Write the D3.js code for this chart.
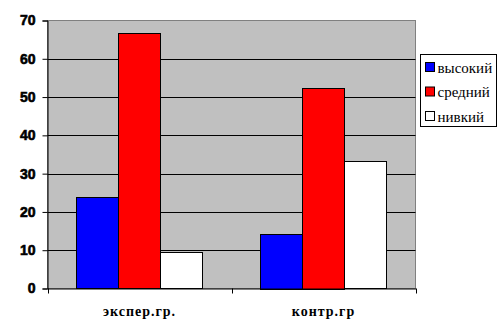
<!DOCTYPE html>
<meta charset="utf-8">
<style>
  body { margin: 0; background: #fff; }
</style>
<svg width="504" height="330"></svg>
<script src="https://d3js.org/d3.v7.min.js"></script>
<script>

var groups = ["экспер.гр.", "контр.гр"],
    levels = ["высокий", "средний", "нивкий"],
    colors = ["#0000ff", "#ff0000", "#ffffff"];

// values per group, in level order
var high = [23.8, 14.3],
    mid = [66.7, 52.4],
    low = [9.5, 33.3];

var yTicks = [0, 10, 20, 30, 40, 50, 60, 70];

var series = [high, mid, low];

var svg = d3.select("svg"),
    pLeft = 47.5, pRight = 415.5, pTop = 20.5, pBottom = 288.5;

var x = d3.scaleBand().domain(groups).range([pLeft, pRight]),
    xi = d3.scaleBand().domain(d3.range(levels.length)).range([0, x.bandwidth()]).paddingOuter(0.7).paddingInner(0),
    y = d3.scaleLinear().domain([0, 70]).range([pBottom, pTop]);

// plot area
svg.append("rect")
    .attr("x", pLeft).attr("y", pTop)
    .attr("width", pRight - pLeft).attr("height", pBottom - pTop)
    .attr("fill", "#c0c0c0")
    .attr("stroke", "#808080");

// gridlines
svg.append("g")
  .selectAll("line")
  .data(yTicks.slice(1, -1))
  .enter().append("line")
    .attr("x1", pLeft).attr("x2", pRight)
    .attr("y1", function(d) { return Math.round(y(d)) + 0.5; })
    .attr("y2", function(d) { return Math.round(y(d)) + 0.5; })
    .attr("stroke", "#000");

// bars
svg.append("g")
  .selectAll("g")
  .data(groups)
  .enter().append("g")
    .attr("transform", function(d) { return "translate(" + x(d) + ",0)"; })
  .selectAll("rect")
  .data(function(d, gi) { return series.map(function(s, li) { return {li: li, v: s[gi]}; }); })
  .enter().append("rect")
    .attr("x", function(d) { return Math.round(xi(d.li)); })
    .attr("width", Math.round(xi.bandwidth()))
    .attr("y", function(d) { return Math.round(y(d.v)) + 0.5; })
    .attr("height", function(d) { return Math.round(pBottom - y(d.v)); })
    .attr("fill", function(d) { return colors[d.li]; })
    .attr("stroke", "#000");

// y axis
var yAxis = svg.append("g")
    .attr("transform", "translate(" + pLeft + ",0)")
    .call(d3.axisLeft(y).tickValues(yTicks).tickSize(5).tickPadding(7));
yAxis.select(".domain").attr("stroke", "#000");
yAxis.selectAll("text")
    .attr("font-family", "Arial, 'Liberation Sans', sans-serif")
    .attr("font-weight", "bold")
    .attr("font-size", 14)
    .attr("stroke", "#000")
    .attr("stroke-width", 0.6)
    .attr("fill", "#000");

// x axis
var xAxis = svg.append("g")
    .attr("transform", "translate(0," + pBottom + ")")
    .call(d3.axisBottom(x).tickSize(0).tickPadding(18));
xAxis.select(".domain").attr("stroke", "#000");
xAxis.selectAll("text")
    .attr("font-family", "'Liberation Serif', 'DejaVu Serif', serif")
    .attr("font-weight", "bold")
    .attr("font-size", 14)
    .attr("letter-spacing", 1)
    .attr("fill", "#000");
xAxis.selectAll(".sep")
  .data([pLeft, (pLeft + pRight) / 2, pRight])
  .enter().append("line")
    .attr("class", "sep")
    .attr("x1", function(d) { return Math.round(d) + 0.5; })
    .attr("x2", function(d) { return Math.round(d) + 0.5; })
    .attr("y1", 0).attr("y2", 5)
    .attr("stroke", "#000");

// legend
var legend = svg.append("g").attr("transform", "translate(420.5,54.5)");
legend.append("rect")
    .attr("width", 76).attr("height", 72)
    .attr("fill", "#fff").attr("stroke", "#000");
var item = legend.selectAll(".item")
  .data(levels)
  .enter().append("g")
    .attr("class", "item")
    .attr("transform", function(d, i) { return "translate(5," + (13 + i * 24.5) + ")"; });
item.append("rect")
    .attr("x", 0).attr("y", -5)
    .attr("width", 9).attr("height", 9)
    .attr("fill", function(d, i) { return colors[i]; })
    .attr("stroke", "#000");
item.append("text")
    .attr("x", 12).attr("y", 0)
    .attr("dy", "0.35em")
    .attr("font-family", "'Liberation Serif', 'DejaVu Serif', serif")
    .attr("font-size", 15)
    .text(function(d) { return d; });

</script>
